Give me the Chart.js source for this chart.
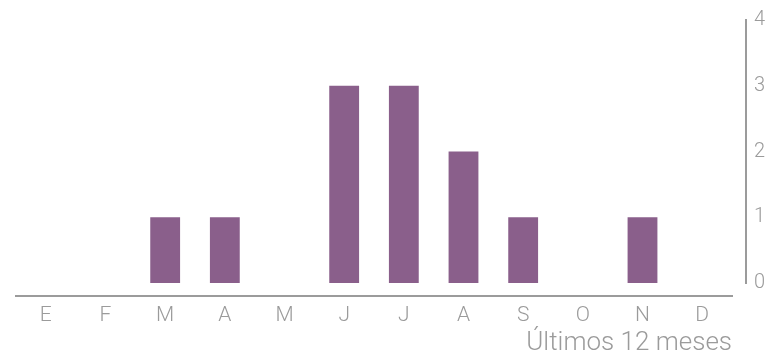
<!DOCTYPE html>
<html>
<head>
<meta charset="utf-8">
<script src="https://cdn.jsdelivr.net/npm/chart.js@4"></script>
<style>
    html, body { margin: 0; padding: 0; background: #fff; }
    #wrap { width: 771px; height: 356px; }
</style>
</head>
<body>
<div id="wrap"><canvas id="monthsChart"></canvas></div>
<script>
const months = ['E', 'F', 'M', 'A', 'M', 'J', 'J', 'A', 'S', 'O', 'N', 'D'];
const counts = [0, 0, 1, 1, 0, 3, 3, 2, 1, 0, 1, 0];
const yTicks = [0, 1, 2, 3, 4];
const axisTitle = 'Últimos 12 meses';

const grey = '#9b9b9b';
const fontFamily = 'Roboto, "Liberation Sans", sans-serif';

const ctx = document.getElementById('monthsChart').getContext('2d');

const data = {
    labels: months,
    datasets: [{
        label: 'Meses',
        data: counts,
        xAxisID: 'x',
        yAxisID: 'y',
        backgroundColor: '#8a5f8b',
        borderWidth: 0,
        barPercentage: 0.5,
        categoryPercentage: 1
    }]
};

const config = {
    type: 'bar',
    data: data,
    options: {
        responsive: true,
        maintainAspectRatio: false,
        animation: false,
        layout: { padding: { left: 16, top: 16, right: 0, bottom: 0 } },
        plugins: {
            legend: { display: false },
            tooltip: { enabled: false }
        },
        scales: {
            // bars sit on this one, it only makes the gap above the axis line
            x: {
                position: 'bottom',
                weight: 0,
                offset: true,
                grid: { display: false, drawTicks: false },
                border: { display: false },
                ticks: { display: false },
                afterFit: scale => { scale.height = 13; }
            },
            xLabels: {
                type: 'category',
                labels: months,
                position: 'bottom',
                weight: 1,
                offset: true,
                grid: { display: false, drawTicks: false },
                border: { display: true, color: grey, width: 2 },
                ticks: {
                    color: grey,
                    padding: 7,
                    maxRotation: 0,
                    font: { family: fontFamily, size: 21, weight: 300 }
                },
                title: {
                    display: true,
                    text: axisTitle,
                    align: 'end',
                    color: grey,
                    padding: { top: 0, bottom: 0 },
                    font: { family: fontFamily, size: 26, weight: 300, lineHeight: 1 }
                },
                afterFit: scale => { scale.height = 60; }
            },
            // empty spacer so the y line sits a bit right of the last bar slot
            yGap: {
                type: 'linear',
                position: 'right',
                weight: 0,
                grid: { display: false, drawTicks: false },
                border: { display: false },
                ticks: { display: false },
                afterFit: scale => { scale.width = 14; }
            },
            y: {
                position: 'right',
                weight: 1,
                min: yTicks[0],
                max: yTicks[yTicks.length - 1],
                grid: { display: false, drawTicks: false },
                border: { display: true, color: grey, width: 2 },
                ticks: {
                    stepSize: 1,
                    color: grey,
                    padding: 8,
                    font: { family: fontFamily, size: 20, weight: 300 }
                },
                afterFit: scale => { scale.width = 25; }
            }
        }
    }
};

new Chart(ctx, config);
</script>
</body>
</html>
